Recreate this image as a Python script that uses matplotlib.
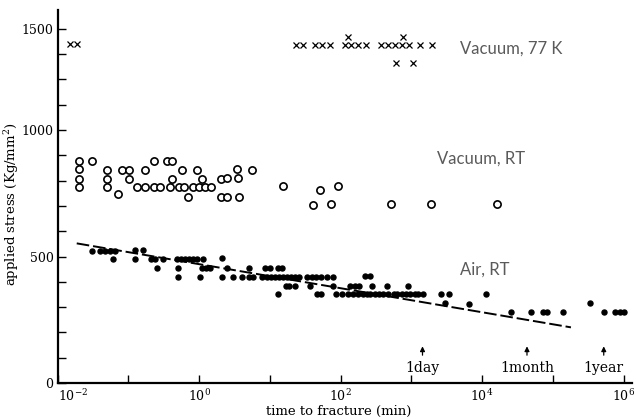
import numpy as np
import matplotlib
matplotlib.use("Agg")
import matplotlib.pyplot as plt
from matplotlib.ticker import FixedLocator, NullFormatter

plt.rcParams['font.family'] = 'DejaVu Serif'
plt.rcParams['mathtext.fontset'] = 'dejavuserif'

# ---- data: log10(time to fracture / min), applied stress (Kg/mm^2) ----
vac77_logt = [-1.825, -1.726,
              1.372, 1.471, 1.641, 1.740, 1.853, 2.065, 2.150, 2.249, 2.362,
              2.574, 2.673, 2.772, 2.871, 2.970, 3.126, 3.296,
              2.107, 2.885, 2.786, 3.026]
vac77_stress = [1425, 1425,
                1420, 1420, 1420, 1420, 1420, 1420, 1420, 1420, 1420,
                1420, 1420, 1420, 1420, 1420, 1420, 1420,
                1460, 1460, 1331, 1331]

vacrt_logt = [-1.697, -1.697, -1.697, -1.697, -1.521,
              -1.306, -1.306, -1.306, -1.153,
              -1.093, -0.986, -0.986,
              -0.877, -0.771, -0.764,
              -0.636, -0.636, -0.559,
              -0.457, -0.386, -0.386, -0.417,
              -0.245, -0.279, -0.208, -0.163,
              -0.033, 0.035, -0.089, 0.000, 0.085, 0.166,
              0.307, 0.389, 0.307, 0.389,
              0.537, 0.545, 0.559, 0.745,
              1.192, 1.617, 1.711, 1.863, 1.970,
              2.716, 3.281, 4.215]
vacrt_stress = [879, 844, 808, 775, 879,
                842, 808, 775, 747,
                842, 842, 806,
                775, 775, 842,
                879, 775, 775,
                879, 879, 806, 775,
                842, 775, 775, 735,
                842, 806, 775, 775, 775, 775,
                806, 810, 735, 735,
                844, 810, 735, 842,
                779, 704, 763, 706, 779,
                706, 706, 706]

air_logt = [-1.513, -1.400, -1.330, -1.259, -1.188, -1.212,
            -0.912, -0.912, -0.788,
            -0.679, -0.622, -0.505, -0.598,
            -0.311, -0.255, -0.198, -0.141, -0.085, -0.028, 0.061,
            -0.293, -0.293,
            0.038, 0.099, 0.156, 0.014,
            0.321, 0.321, 0.400, 0.485, 0.604, 0.711, 0.711, 0.768, 0.887,
            0.933, 1.004, 1.122, 1.170,
            0.962, 1.018, 1.075, 1.131, 1.188, 1.245, 1.301, 1.358, 1.414,
            1.528, 1.598, 1.655, 1.726, 1.810, 1.895,
            1.231, 1.277, 1.358, 1.570, 1.899,
            1.122, 1.669, 1.726,
            2.348, 2.419,
            2.136, 2.206, 2.267, 2.443, 2.663, 2.960,
            1.938, 2.023, 2.107, 2.178, 2.249, 2.320, 2.376, 2.419, 2.489,
            2.546, 2.602, 2.673, 2.758, 2.800, 2.871, 2.928, 2.984, 3.055,
            3.098, 3.168,
            3.419, 3.526, 3.479, 3.809, 4.052,
            4.413, 4.696, 4.861, 4.915, 5.144, 5.530, 5.724, 5.884, 5.945, 6.007]
air_stress = [523, 523, 523, 523, 523, 489,
              526, 489, 526,
              489, 489, 489, 453,
              489, 489, 489, 489, 489, 489, 489,
              453, 418,
              453, 453, 453, 418,
              493, 418, 453, 418, 418, 453, 418, 418, 418,
              453, 453, 455, 455,
              418, 418, 418, 418, 418, 418, 418, 418, 418,
              418, 418, 418, 418, 418, 418,
              385, 385, 385, 385, 385,
              352, 352, 352,
              423, 423,
              385, 385, 385, 385, 385, 385,
              351, 351, 351, 351, 351, 351, 351, 351, 351,
              351, 351, 351, 351, 351, 351, 351, 351, 351,
              351, 351,
              351, 351, 318, 314, 350,
              281, 281, 281, 281, 281, 318, 281, 281, 281, 281]

# dashed trend line through the air data
fit_logt = [-1.730, 5.257]
fit_stress = [552, 220]

# time landmarks (min)
marks = [("1day", 1440), ("1month", 43200), ("1year", 525600)]


# upper part of the stress axis is drawn compressed (4 divisions per 500)
def fwd(y):
    y = np.asarray(y, dtype=float)
    return np.where(y <= 1000, y, 1000 + (y - 1000) * 0.8)


def inv(y):
    y = np.asarray(y, dtype=float)
    return np.where(y <= 1000, y, 1000 + (y - 1000) / 0.8)


fig = plt.figure(figsize=(6.36, 4.19), dpi=100)
ax = fig.add_axes([0.0906, 0.0859, 0.9031, 0.8902])

ax.plot(10 ** np.array(vac77_logt), vac77_stress, 'x', color='black',
        ms=4.5, mew=0.9)
ax.plot(10 ** np.array(vacrt_logt), vacrt_stress, 'o', mfc='white',
        mec='black', ms=5.2, mew=1.2)
ax.plot(10 ** np.array(air_logt), air_stress, 'o', color='black', ms=3.6)
ax.plot(10 ** np.array(fit_logt), fit_stress, color='black', lw=1.4,
        ls=(0, (6.5, 2)))

ax.set_xscale('log')
ax.set_yscale('function', functions=(fwd, inv))
ax.set_xlim(1e-2, 10 ** 6.12)
ax.set_ylim(0, 1593)

ax.xaxis.set_major_locator(FixedLocator([1e-2, 1e0, 1e2, 1e4, 1e6]))
ax.xaxis.set_minor_locator(FixedLocator([1e-1, 1e1, 1e3, 1e5]))
ax.xaxis.set_minor_formatter(NullFormatter())
ax.set_xticklabels([r'$10^{-2}$', r'$10^{0}$', r'$10^{2}$', r'$10^{4}$',
                    r'$10^{6}$'])
ax.get_xticklabels()[0].set_horizontalalignment('left')
ax.set_yticks([0, 500, 1000, 1500])
ax.set_yticks([100, 200, 300, 400, 600, 700, 800, 900, 1125, 1250, 1375],
              minor=True)
ax.tick_params(which='both', direction='in', length=6, width=1.0,
               labelsize=9)
ax.tick_params(axis='x', pad=4)
ax.tick_params(axis='y', pad=3)

for s in ['top', 'right']:
    ax.spines[s].set_visible(False)
for s in ['left', 'bottom']:
    ax.spines[s].set_linewidth(1.6)

ax.set_ylabel('applied stress (Kg/mm$^2$)', fontsize=9.5)
ax.yaxis.set_label_coords(-0.064, 0.48)
ax.set_xlabel('time to fracture (min)', fontsize=9.5)
ax.xaxis.set_label_coords(0.49, -0.058)

# condition labels
lab_kw = dict(fontsize=12, color='#5a5a5a', family='Lato', va='center',
              ha='left')
ax.text(10 ** 3.69, 1400, 'Vacuum, 77 K', **lab_kw)
ax.text(10 ** 3.37, 885, 'Vacuum, RT', **lab_kw)
ax.text(10 ** 3.69, 447, 'Air, RT', **lab_kw)

for name, t in marks:
    ax.annotate('', xy=(t, 145), xytext=(t, 110),
                arrowprops=dict(arrowstyle='-|>', color='black', lw=0.9,
                                mutation_scale=7, shrinkA=0, shrinkB=0))
    ax.text(t, 59, name, fontsize=10, ha='center', va='center')

fig.savefig('out.png', dpi=100)
